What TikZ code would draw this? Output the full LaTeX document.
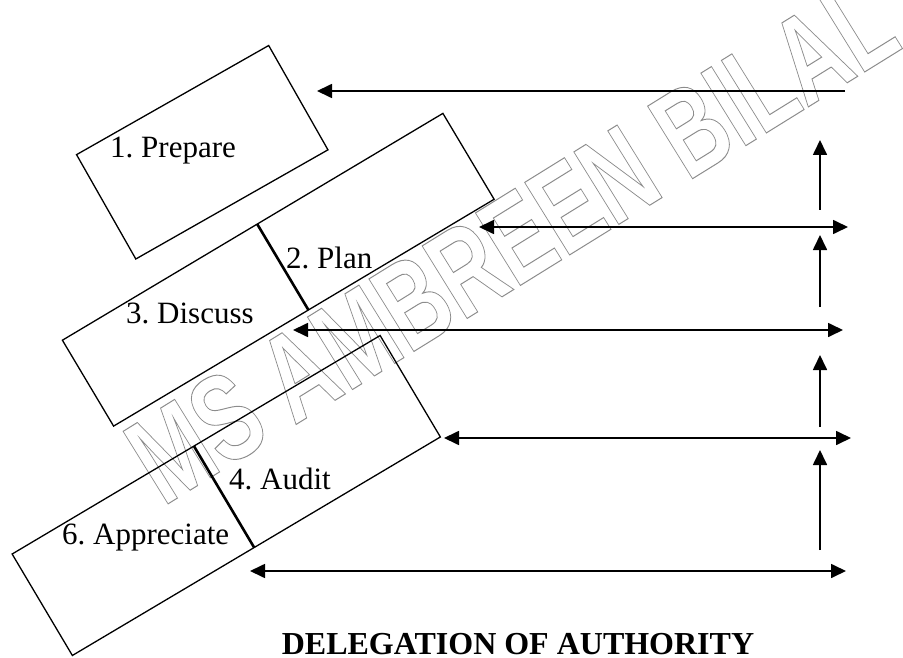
\documentclass[tikz,border=0pt]{standalone}
\usepackage{fontspec}
\setmainfont{Liberation Serif}
\newfontfamily\markfont{Liberation Sans}
\usetikzlibrary{arrows.meta,calc}
\definecolor{markgray}{gray}{0.55}
\frenchspacing
\begin{document}
\begin{tikzpicture}[x=1pt,y=-1pt,
  stage/.style={draw=black, line width=1.3pt, inner sep=0pt, outer sep=0pt},
  divider/.style={line width=2.6pt},
  flow/.style={line width=1.7pt, -{Triangle[length=15pt,width=14pt]}},
  twoway/.style={line width=1.7pt, {Triangle[length=15pt,width=14pt]}-{Triangle[length=15pt,width=14pt]}},
  steptext/.style={font=\fontsize{31}{36}\selectfont, inner sep=0pt, anchor=base west},
  watermark/.style={font=\markfont\bfseries\fontsize{124}{124}\selectfont, text=markgray,
    inner sep=0pt, anchor=base west}]
\useasboundingbox (0,0) rectangle (903,658);

% outlined watermark
\node[watermark, rotate=31.8, xscale=0.70] (mark) at (163,507)
  {\special{pdf:literal direct 1 Tr 1 w}MS AMBREEN BILAL\special{pdf:literal direct 0 Tr}};

% tilted stage boxes
\node[stage, rotate=29.6, minimum width=221pt, minimum height=120pt] (prep) at (202.25,152.25) {};
\node[stage, rotate=30.8, minimum width=443pt, minimum height=100pt] (plandisc) at (278.25,269.75) {};
\node[stage, rotate=30.7, minimum width=428pt, minimum height=118pt] (auditapp) at (226.25,495.5) {};

% dividers inside the long boxes
\draw[divider] ($(plandisc.north west)!0.512!(plandisc.north east)$) -- ($(plandisc.south west)!0.512!(plandisc.south east)$);
\draw[divider] ($(auditapp.north west)!0.494!(auditapp.north east)$) -- ($(auditapp.south west)!0.494!(auditapp.south east)$);

% stage names
\node[steptext] (t1) at (110,158) {1. Prepare};
\node[steptext] (t2) at (286,268) {2. Plan};
\node[steptext] (t3) at (126,323) {3. Discuss};
\node[steptext] (t4) at (229,489) {4. Audit};
\node[steptext] (t6) at (62,544) {6. Appreciate};

% arrow end points
\coordinate (h1r) at (845,91);  \coordinate (h1l) at (317,91);
\coordinate (h2l) at (479,227); \coordinate (h2r) at (848,227);
\coordinate (h3l) at (293,330); \coordinate (h3r) at (843,330);
\coordinate (h4l) at (444,438); \coordinate (h4r) at (851,438);
\coordinate (h5l) at (250,571); \coordinate (h5r) at (846,571);
\coordinate (v1b) at (820,210); \coordinate (v1t) at (820,140);
\coordinate (v2b) at (820,307); \coordinate (v2t) at (820,235);
\coordinate (v3b) at (820,427); \coordinate (v3t) at (820,355);
\coordinate (v4b) at (820,550); \coordinate (v4t) at (820,450);

% horizontal links
\draw[flow] (h1r) -- (h1l);
\draw[twoway] (h2l) -- (h2r);
\draw[twoway] (h3l) -- (h3r);
\draw[twoway] (h4l) -- (h4r);
\draw[twoway] (h5l) -- (h5r);

% upward links
\draw[flow] (v1b) -- (v1t);
\draw[flow] (v2b) -- (v2t);
\draw[flow] (v3b) -- (v3t);
\draw[flow] (v4b) -- (v4t);

% caption
\node[font=\bfseries\fontsize{32}{36}\selectfont, inner sep=0pt, anchor=base] (title) at (518,654) {DELEGATION OF AUTHORITY};
\end{tikzpicture}
\end{document}
